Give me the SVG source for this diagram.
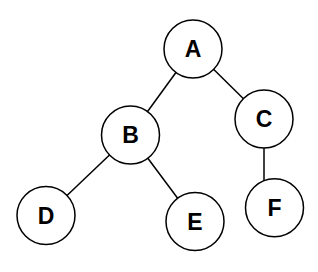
<svg xmlns="http://www.w3.org/2000/svg" width="318" height="272" viewBox="0 0 318 272">
<style>
.n circle{fill:#fff;stroke:#000;stroke-width:1.5}
.n text{font-family:"Liberation Sans",Arial,sans-serif;font-weight:bold;font-size:23px;text-anchor:middle;dominant-baseline:central;fill:#000}
#edges line{stroke:#000;stroke-width:1.5}
</style>
<rect width="318" height="272" fill="#fff"/>
<g id="edges">
<line x1="193" y1="49" x2="130.5" y2="135"/>
<line x1="193" y1="49" x2="264" y2="119"/>
<line x1="130.5" y1="135" x2="46" y2="215.5"/>
<line x1="130.5" y1="135" x2="195" y2="221.5"/>
<line x1="264" y1="119" x2="264" y2="207.8"/>
</g>
<g id="node-A" class="n"><circle cx="193" cy="49" r="29"/><text x="193" y="49">A</text></g>
<g id="node-B" class="n"><circle cx="130.5" cy="135" r="29"/><text x="130.5" y="135">B</text></g>
<g id="node-C" class="n"><circle cx="264" cy="119" r="29"/><text x="264" y="119">C</text></g>
<g id="node-D" class="n"><circle cx="46" cy="215.5" r="29"/><text x="46" y="215.5">D</text></g>
<g id="node-E" class="n"><circle cx="195" cy="221.5" r="29"/><text x="195" y="221.5">E</text></g>
<g id="node-F" class="n"><circle cx="274.5" cy="207.8" r="29"/><text x="274.5" y="207.8">F</text></g>
</svg>
